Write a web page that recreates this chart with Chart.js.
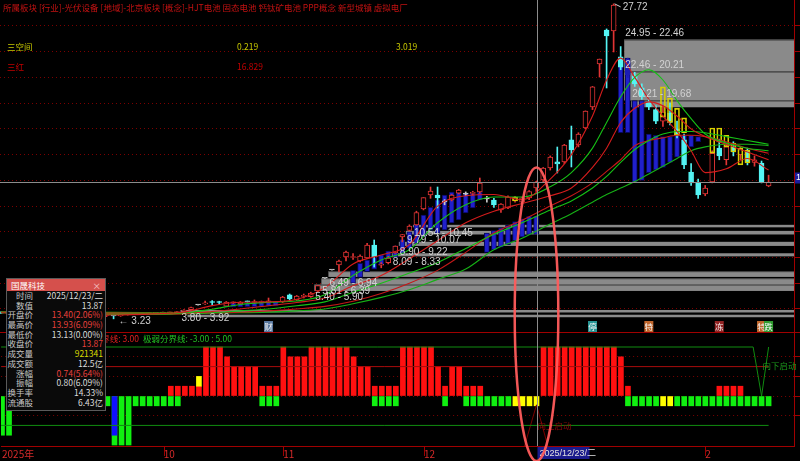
<!DOCTYPE html>
<html>
<head>
<meta charset="utf-8">
<script src="https://cdn.jsdelivr.net/npm/chart.js@4.4.1/dist/chart.umd.min.js"></script>
<style>
html, body { margin: 0; padding: 0; background: #000; width: 800px; height: 461px; overflow: hidden;
  font-family: "Noto Sans CJK SC", "Noto Sans", sans-serif; }
#wrap { position: relative; width: 800px; height: 461px; }
canvas { position: absolute; left: 0; top: 0; }
#price { z-index: 1; }
#ind { z-index: 2; }
.txt { position: absolute; z-index: 3; font-size: 8.5px; line-height: 12px; white-space: nowrap; }
#tip { position: absolute; z-index: 5; left: 6px; top: 278px; width: 98px; height: 131px;
  background: #0a0a0a; border: 1px solid #5a5a5a; font-size: 8.5px; color: #dcdcdc; }
#tiphd { height: 12px; line-height: 12px; background: #d5504c; color: #fff; padding-left: 4px; position: relative; }
#tiphd .x { position: absolute; right: 4px; top: 0; color: #f3c2c2; }
.r { position: relative; height: 9.7px; line-height: 9.7px; }
.r .l { position: absolute; right: 72px; color: #c8c8c8; }
.r .v { position: absolute; right: 2px; }
.red { color: #e8403c; }
.yel { color: #d8d800; }
</style>
</head>
<body>
<div id="wrap">
  <canvas id="price" width="800" height="333"></canvas>
  <canvas id="ind" width="800" height="461"></canvas>

  <div class="txt" style="left:3px;top:1px;color:#c41212">所属板块 [行业]-光伏设备 [地域]-北京板块 [概念]-HJT电池 固态电池 钙钛矿电池 PPP概念 新型城镇 虚拟电厂</div>
  <div class="txt" style="left:7px;top:40px;color:#c8c800">三空间</div>
  <div class="txt" style="left:237px;top:40px;color:#c8c800">0.219</div>
  <div class="txt" style="left:396px;top:40px;color:#c8c800">3.019</div>
  <div class="txt" style="left:7px;top:60px;color:#c40000">三红</div>
  <div class="txt" style="left:237px;top:60px;color:#c40000">16.829</div>

  <div id="tip">
    <div id="tiphd">国晟科技<span class="x">×</span></div>
    <div class="r"><span class="l">时间</span><span class="v">2025/12/23/二</span></div>
    <div class="r"><span class="l">数值</span><span class="v">13.87</span></div>
    <div class="r"><span class="l">开盘价</span><span class="v red">13.40(2.06%)</span></div>
    <div class="r"><span class="l">最高价</span><span class="v red">13.93(6.09%)</span></div>
    <div class="r"><span class="l">最低价</span><span class="v">13.13(0.00%)</span></div>
    <div class="r"><span class="l">收盘价</span><span class="v red">13.87</span></div>
    <div class="r"><span class="l">成交量</span><span class="v yel">921341</span></div>
    <div class="r"><span class="l">成交额</span><span class="v">12.5亿</span></div>
    <div class="r"><span class="l">涨幅</span><span class="v red">0.74(5.64%)</span></div>
    <div class="r"><span class="l">振幅</span><span class="v">0.80(6.09%)</span></div>
    <div class="r"><span class="l">换手率</span><span class="v">14.33%</span></div>
    <div class="r"><span class="l">流通股</span><span class="v">6.43亿</span></div>
  </div>
</div>

<script>
// daily candles (one per trading day)
const opens = [3.72,3.68,3.70,3.66,3.69,3.71,3.74,3.67,3.62,3.66,
  3.64,3.58,3.62,3.55,3.57,3.50,3.53,3.45,3.55,3.60,
  3.62,3.64,3.66,3.68,3.70,3.72,3.80,3.95,4.31,4.40,
  4.52,4.52,4.22,4.47,4.42,4.60,4.50,4.50,4.56,4.52,
  4.54,5.10,4.70,4.98,4.95,5.40,6.39,7.03,7.42,8.04,
  8.00,7.73,7.96,8.97,7.40,7.60,8.35,9.60,10.10,10.53,
  11.77,12.86,12.86,12.32,12.47,13.00,12.93,12.98,13.09,12.55,
  12.47,11.69,11.85,12.39,12.31,12.63,13.40,14.03,14.96,15.43,
  15.43,17.14,16.75,18.07,19.70,23.05,25.69,25.61,23.60,23.20,
  22.10,21.20,20.10,19.50,18.60,19.20,18.00,17.14,14.65,13.87,
  12.94,13.87,16.50,15.60,16.60,16.00,16.30,15.40,15.35,13.56];
const highs = [3.78,3.74,3.76,3.72,3.75,3.80,3.79,3.72,3.70,3.73,
  3.70,3.66,3.68,3.62,3.63,3.58,3.56,3.58,3.64,3.69,
  3.70,3.71,3.72,3.75,3.76,3.82,3.95,4.15,4.31,4.62,
  4.65,4.60,4.58,4.55,4.58,4.62,4.70,4.62,4.85,4.56,
  4.98,5.16,5.05,5.16,5.30,5.81,6.39,7.03,7.80,8.50,
  8.30,8.20,9.10,9.36,7.60,8.09,8.90,9.79,10.54,11.60,
  12.65,13.48,13.48,12.50,12.90,13.30,13.10,13.15,14.18,12.75,
  12.60,12.20,12.80,12.75,12.70,13.20,13.93,15.00,15.90,16.59,
  16.80,18.22,17.70,19.40,21.30,23.43,25.77,27.72,24.40,23.50,
  22.40,21.50,20.30,19.80,19.80,20.00,18.60,17.60,15.30,14.10,
  13.60,16.30,17.20,16.90,17.00,16.60,16.50,15.90,15.50,14.40];
const lows = [3.66,3.62,3.64,3.60,3.63,3.66,3.65,3.58,3.57,3.60,
  3.55,3.54,3.52,3.48,3.45,3.40,3.23,3.42,3.52,3.58,
  3.59,3.60,3.62,3.64,3.66,3.69,3.78,3.92,4.31,4.36,
  4.30,4.40,4.20,4.42,4.40,4.52,4.42,4.46,4.50,4.40,
  4.50,4.70,4.66,4.85,4.90,5.35,6.39,7.03,6.87,7.73,
  7.85,7.65,7.90,7.26,7.20,7.50,8.33,9.22,10.07,10.50,
  11.70,12.60,11.85,12.10,12.40,12.95,12.80,12.85,13.00,12.30,
  11.90,11.50,11.80,12.30,12.25,12.50,13.13,13.90,14.80,14.57,
  15.30,15.04,16.60,18.00,19.50,22.03,21.18,23.98,22.60,22.00,
  21.30,20.30,19.50,18.40,18.20,18.30,17.30,14.90,13.60,12.60,
  12.80,13.80,15.60,15.20,15.90,15.60,15.20,15.10,13.80,13.50];
const closes = [3.68,3.70,3.66,3.69,3.71,3.74,3.67,3.62,3.66,3.64,
  3.58,3.62,3.55,3.57,3.50,3.53,3.45,3.55,3.60,3.62,
  3.64,3.66,3.68,3.70,3.72,3.78,3.92,4.10,4.31,4.45,
  4.50,4.50,4.54,4.50,4.52,4.55,4.52,4.58,4.58,4.45,
  4.93,4.77,5.00,5.05,5.24,5.81,6.39,7.03,7.73,8.43,
  8.06,8.11,8.97,8.04,7.45,7.95,8.89,9.78,10.45,11.50,
  12.65,13.17,12.63,12.32,12.86,13.25,12.93,13.02,13.79,12.55,
  12.08,12.16,12.70,12.70,12.63,13.13,13.87,14.96,15.81,15.27,
  16.75,16.36,17.60,19.39,21.26,23.43,25.22,27.63,22.80,22.20,
  21.50,20.50,19.70,18.60,19.30,18.50,17.50,15.20,13.80,12.86,
  13.40,16.10,15.90,16.60,16.20,16.40,15.40,15.60,13.87,13.87];

// moving-average curves, sampled by eye at these bars
const maIdx = [0,8,16,22,26, 30,34,38,42,46, 50,54,58,62,66, 70,74,78,81,84, 86,88,90,92,94, 96,98,100,103,106, 109];
const ma5  = [3.70,3.66,3.53,3.62,3.76, 4.26,4.52,4.55,4.75,5.66, 7.50,8.20,9.00,12.00,12.80, 12.90,12.50,14.10,16.00,19.00, 21.80,23.50,22.00,20.30,19.00, 17.80,16.30,14.60,14.90,15.70, 14.80];
const ma10 = [3.70,3.68,3.58,3.58,3.68, 3.98,4.35,4.52,4.62,5.10, 6.60,7.80,8.60,10.70,12.10, 12.70,12.70,13.50,14.60,16.50, 18.50,20.50,22.00,22.60,21.80, 20.20,18.80,17.60,16.90,16.50, 16.30];
const ma20 = [3.72,3.70,3.62,3.60,3.64, 3.80,4.00,4.25,4.50,4.85, 5.80,6.60,7.90,9.30,10.70, 11.60,12.20,12.80,13.40,15.00, 16.50,18.50,19.60,20.10,19.80, 19.00,18.00,17.40,16.80,16.20, 15.60];
const ma30 = [3.74,3.72,3.66,3.63,3.63, 3.70,3.85,4.00,4.25,4.55, 5.30,6.00,6.80,7.60,8.70, 9.80,10.70,11.70,12.40,13.40, 14.30,15.40,16.40,17.10,17.60, 17.80,17.80,17.70,17.40,17.10, 16.80];
const ma45 = [3.76,3.74,3.70,3.67,3.66, 3.68,3.74,3.85,4.00,4.20, 4.60,5.20,6.00,7.00,8.40, 9.90,10.90,12.00,12.80,13.80, 14.70,15.60,16.70,17.10,17.30, 17.50,17.50,17.40,17.00,16.50, 16.10];
const ma60 = [3.78,3.76,3.73,3.70,3.68, 3.68,3.70,3.75,3.85,4.00, 4.40,4.90,5.50,6.30,7.10, 8.60,9.50,10.60,11.40,12.30, 12.90,13.40,13.90,14.50,15.10, 15.70,16.30,16.60,16.80,16.80, 16.70];

// blue band bars between the averages
const bandIdx = [32,33,34,35,36,37,38,39, 50,51,52,53,54,55,56,57,58,59,60,61,62,63,64,65,66,67,68,
  69,70,71,72,73,74,75,76, 88,89,90,91,92,93,94,95,96,97,98,99];
const bandHi = [4.45,4.45,4.47,4.47,4.48,4.50,4.52,4.52, 7.00,7.55,7.80,8.00,8.20,8.50,8.90,9.40,10.00,10.60,11.30,11.90,12.47,12.86,13.09,13.09,13.00,13.00,13.09,
  9.90,10.10,10.30,10.50,10.80,11.00,11.20,11.20, 23.50,23.50,20.20,20.20,17.60,17.50,17.40,17.40,17.50,17.50,17.50,17.40];
const bandLo = [4.15,4.15,4.15,4.17,4.18,4.20,4.22,4.25, 6.00,6.45,6.90,7.10,7.40,7.70,8.00,8.30,8.70,9.10,9.60,10.10,9.90,10.14,10.68,10.92,11.46,11.85,12.47,
  8.40,8.60,8.80,9.00,9.30,9.60,9.80,9.80, 17.70,17.70,13.87,14.00,14.60,14.80,15.00,15.40,15.80,16.20,16.60,17.00];

// yellow warning boxes
const warnBoxIdx = [19,20,21,22,23,24,25, 73, 94,95,96,97, 101,102,103,104,105,106];
const warnBoxHi = [3.68,3.68,3.70,3.70,3.72,3.72,3.74, 12.70, 21.26,20.40,19.60,18.85, 18.07,18.07,17.50,16.90,16.50,16.36];
const warnBoxLo = [3.60,3.61,3.62,3.63,3.64,3.64,3.66, 12.39, 18.92,18.50,17.50,17.70, 16.12,16.98,16.60,16.20,15.20,15.35];

// gap zones (start bar, upper and lower price)
const gapStart = [89, 89, 90, 59, 58, 57, 56, 47, 46, 45, 26, 27];
const gapHi = [24.95, 22.46, 20.21, 10.54, 10.07, 9.22, 8.33, 6.94, 6.39, 5.90, 3.92, 3.55];
const gapLo = [22.46, 20.21, 19.68, 10.45, 9.79, 8.90, 8.09, 6.49, 5.81, 5.40, 3.80, 3.45];
const gapText = ['24.95 - 22.46', '22.46 - 20.21', '20.21 - 19.68', '10.54 - 10.45', '9.79 - 10.07',
  '8.90 - 9.22', '8.09 - 8.33', '6.49 - 6.94', '5.81 - 6.39', '5.40 - 5.90', '3.80 - 3.92', ''];

// event markers
const markIdx = [38, 84, 92, 102, 108, 109];
const markText = ['财', '停', '特', '冻', '特', '跌'];

// cursor
const cursorIdx = 76;
const cursorDate = '2025/12/23/二';
const ringTop = 15.0;
const ringSpan = 3.1;

// strength indicator
const upBars = [0,0,0,0,0,0,0,0,0,0,
  0,0,0,0,0,0,0,0,0,0,
  0,0,0,0,1,1,1,1,1,5,
  5,5,4,3,3,3,3,1,1,1,
  5,4,4,4,5,5,5,5,5,5,
  4,3,3,1,1,1,1,5,5,5,
  5,5,3,1,3,3,1,1,1,0,
  0,0,0,0,0,0,0,5,5,5,
  5,5,5,5,5,5,5,5,4,1,
  0,0,0,0,0,0,0,0,0,0,
  0,0,1,1,1,1,0,0,0,0];
const downBars = [-4,-4,-1,-1,-1,-1,-1,-1,-1,-1,
  -1,-1,-1,-1,-1,-1,-5,-5,-5,-1,
  -1,-1,-1,-1,-1,-1,0,0,0,0,
  0,0,0,0,0,0,0,-1,-1,-1,
  0,0,0,0,0,0,0,0,0,0,
  0,0,0,-1,-1,-1,-1,0,0,0,
  0,0,0,-1,0,0,-1,-1,-1,-1,
  -1,-1,-1,0,0,0,0,0,0,0,
  0,0,0,0,0,0,0,0,0,-1,
  -1,-1,-1,-1,0,0,-1,-1,-1,-1,
  -1,-1,-1,-1,-1,-1,-1,-1,-1,-1];
const warnIdx = [28, 73, 74, 75, 76, 94, 95];
const warnFrom = [1, 0, 0, 0, 0, 0, 0];
const warnTo = [2, -1, -1, -1, -1, -1, -1];
const deepIdx = [16];
const deepTo = [-4];
const strongLine = 5, midLine = 3, weakLine = -3;
const downStartIdx = 108, upStartIdx = 76;

// date axis
const monthIdx = [0, 23, 40, 60, 100];
const monthText = ['2025年', '10', '11', '12', '2'];

const xMin = -0.128, xMax = 112.61;
const bars = closes.map((_, i) => i);
const CJK = '"Noto Sans CJK SC", "Noto Sans", sans-serif';
const NUM = '"Liberation Sans", "Noto Sans CJK SC", sans-serif';

function inBand(i) {
  const k = bandIdx.indexOf(i);
  if (k < 0) return false;
  return Math.max(opens[i], closes[i]) <= bandHi[k] + 0.01 && Math.min(opens[i], closes[i]) >= bandLo[k] - 0.01;
}
function candleColor(i) {
  if (closes[i] === opens[i]) return '#c8c8c8';
  if (closes[i] > opens[i]) return '#e03434';
  return inBand(i) ? '#1c1cb4' : '#54f4f4';
}
function maLine(vals, color) {
  return { type: 'line', data: maIdx.map((v, k) => ({ x: v, y: vals[k] })), borderColor: color,
    borderWidth: 1.1, pointRadius: 0, cubicInterpolationMode: 'monotone', order: 10 };
}

const gapPlugin = {
  id: 'gaps',
  beforeDatasetsDraw(chart) {
    const { ctx, chartArea: a, scales: { x, y } } = chart;
    ctx.save();
    gapStart.forEach((s, k) => {
      const left = x.getPixelForValue(s) - 3.5;
      const top = y.getPixelForValue(gapHi[k]);
      const h = Math.max(y.getPixelForValue(gapLo[k]) - top, 2.5);
      ctx.fillStyle = '#8a8a8a';
      ctx.fillRect(left, top, a.right - left, h);
      if (h > 5) {
        ctx.fillStyle = '#3a3a3a';
        ctx.fillRect(left, top, a.right - left, 1);
      }
    });
    ctx.restore();
  },
  afterDatasetsDraw(chart) {
    const { ctx, scales: { x, y } } = chart;
    ctx.save();
    ctx.font = '10px ' + NUM;
    ctx.fillStyle = '#d2d2d2';
    gapStart.forEach((s, k) => {
      const left = x.getPixelForValue(s) - 3.5;
      if (gapHi[k] > 15) {
        ctx.textBaseline = 'bottom';
        ctx.fillText(gapText[k], left + 1, y.getPixelForValue(gapHi[k]) - 1);
      } else {
        ctx.textBaseline = 'top';
        const bottom = Math.max(y.getPixelForValue(gapLo[k]), y.getPixelForValue(gapHi[k]) + 2.5);
        ctx.fillText(gapText[k], left + 1, bottom + 1);
      }
    });
    ctx.restore();
  }
};

const markStyle = { '财': '#56769e', '停': '#269494', '特': '#c0662c', '冻': '#922424', '跌': '#2e9a2e' };

const priceOverlay = {
  id: 'priceOverlay',
  afterDraw(chart) {
    const { ctx, chartArea: a, scales: { x, y } } = chart;
    ctx.save();
    // horizontal cursor line
    const cy = Math.round(y.getPixelForValue(closes[cursorIdx])) + 0.5;
    ctx.strokeStyle = '#8c8c8c';
    ctx.lineWidth = 1;
    ctx.beginPath(); ctx.moveTo(a.left, cy); ctx.lineTo(a.right, cy); ctx.stroke();

    // highest / lowest notes
    const hiVal = Math.max(...highs), loVal = Math.min(...lows);
    const hi = highs.indexOf(hiVal), lo = lows.indexOf(loVal);
    const hx = x.getPixelForValue(hi), hy = y.getPixelForValue(hiVal);
    ctx.strokeStyle = '#d0d0d0';
    ctx.beginPath(); ctx.moveTo(hx + 1, hy); ctx.lineTo(hx + 7, hy + 3); ctx.stroke();
    ctx.font = '10px ' + NUM;
    ctx.fillStyle = '#d0d0d0';
    ctx.textBaseline = 'middle';
    ctx.fillText(hiVal.toFixed(2), hx + 9, hy + 3);
    ctx.fillText('← ' + loVal.toFixed(2), x.getPixelForValue(lo) + 5, y.getPixelForValue(loVal) + 2);

    // event markers along the bottom
    ctx.font = '8.5px ' + CJK;
    ctx.textAlign = 'center';
    markIdx.forEach((m, k) => {
      const mx = x.getPixelForValue(m);
      ctx.fillStyle = markStyle[markText[k]];
      ctx.fillRect(mx - 4.5, a.bottom - 12, 9, 11);
      ctx.fillStyle = '#f4f4f4';
      ctx.fillText(markText[k], mx, a.bottom - 6.5);
    });

    // last price tag on the axis (mostly off-screen)
    ctx.fillStyle = '#1c1c9c';
    ctx.fillRect(a.right + 1, cy - 10, 34, 11);
    ctx.fillStyle = '#ffffff';
    ctx.textAlign = 'left';
    ctx.font = '9px ' + NUM;
    ctx.fillText(closes[cursorIdx].toFixed(2), a.right + 2, cy - 4.5);
    ctx.restore();
  }
};

const priceChart = new Chart(document.getElementById('price'), {
  type: 'bar',
  data: {
    datasets: [
      maLine(ma5, '#d41c1c'),
      maLine(ma10, '#16c016'),
      maLine(ma20, '#d41c1c'),
      maLine(ma30, '#16c016'),
      maLine(ma45, '#c41818'),
      maLine(ma60, '#16b016'),
      {
        data: warnBoxIdx.map((v, k) => ({ x: v, y: [warnBoxLo[k], warnBoxHi[k]] })),
        backgroundColor: 'rgba(0,0,0,0)', borderColor: '#d8d000', borderWidth: 1, borderSkipped: false,
        barThickness: 5, grouped: false, order: 20
      },
      {
        data: bars.map(i => ({ x: i, y: [Math.min(opens[i], closes[i]), Math.max(opens[i], closes[i])] })),
        backgroundColor: c => closes[c.dataIndex] > opens[c.dataIndex] ? '#000000' : candleColor(c.dataIndex),
        borderColor: c => candleColor(c.dataIndex),
        borderWidth: 1, borderSkipped: false, barThickness: 5, minBarLength: 1, grouped: false, order: 30
      },
      {
        data: bars.map(i => ({ x: i, y: [Math.max(opens[i], closes[i]), highs[i]] })),
        backgroundColor: c => candleColor(c.dataIndex), borderWidth: 0, barThickness: 1, grouped: false, order: 40
      },
      {
        data: bars.map(i => ({ x: i, y: [lows[i], Math.min(opens[i], closes[i])] })),
        backgroundColor: c => candleColor(c.dataIndex), borderWidth: 0, barThickness: 1, grouped: false, order: 40
      },
      {
        data: bandIdx.map((v, k) => ({ x: v, y: [bandLo[k], bandHi[k]] })),
        backgroundColor: '#2020cc', borderColor: '#08085e', borderWidth: 1, borderSkipped: false,
        barThickness: 5, grouped: false, order: 50
      }
    ]
  },
  options: {
    responsive: false, animation: false, devicePixelRatio: 1,
    layout: { padding: 0 },
    plugins: { legend: { display: false }, tooltip: { enabled: false } },
    scales: {
      x: { type: 'linear', min: xMin, max: xMax, display: false, offset: false },
      y: {
        position: 'right', min: 2.13, max: 28.02,
        ticks: { display: false, stepSize: 2 },
        afterBuildTicks: s => { s.ticks = s.ticks.filter(t => Math.abs(t.value - Math.round(t.value)) < 1e-6 && t.value >= 4 && t.value <= 26); },
        afterFit: s => { s.width = 6; },
        grid: { color: '#7c0000', tickColor: '#a00000', tickLength: 6 },
        border: { display: true, color: '#a00000', dash: [1, 3] }
      }
    }
  },
  plugins: [gapPlugin, priceOverlay]
});

const indOverlay = {
  id: 'indOverlay',
  afterDraw(chart) {
    const { ctx, chartArea: a, scales: { x, y } } = chart;
    ctx.save();
    // panel top border
    ctx.fillStyle = '#a00000';
    ctx.fillRect(0, a.top - 1, chart.width, 1);

    // month tick marks
    ctx.strokeStyle = '#a00000';
    ctx.lineWidth = 1;
    monthIdx.forEach(m => {
      if (m === 0) return;
      const mx = Math.round(x.getPixelForValue(m)) + 0.5;
      ctx.beginPath(); ctx.moveTo(mx, a.bottom); ctx.lineTo(mx, a.bottom + 10); ctx.stroke();
    });

    // legend
    ctx.font = '8.5px ' + CJK;
    ctx.textBaseline = 'middle';
    ctx.textAlign = 'right';
    ctx.fillStyle = '#e42020';
    ctx.fillText('强弱分界线: ' + midLine.toFixed(2), 139, a.top + 6);
    ctx.textAlign = 'left';
    ctx.fillStyle = '#22c222';
    ctx.fillText('极弱分界线: ' + weakLine.toFixed(2) + ' : ' + strongLine.toFixed(2), 143, a.top + 6);

    // signal notes
    ctx.fillStyle = '#1c9a1c';
    ctx.fillText('向下启动', x.getPixelForValue(downStartIdx) + 1, y.getPixelForValue(midLine) - 1);
    ctx.fillStyle = '#8a0a0a';
    ctx.fillText('向上启动', x.getPixelForValue(upStartIdx) + 1, y.getPixelForValue(weakLine));

    // vertical cursor through both panels
    const cx = Math.round(x.getPixelForValue(cursorIdx)) + 0.5;
    ctx.strokeStyle = '#8c8c8c';
    ctx.beginPath(); ctx.moveTo(cx, 0); ctx.lineTo(cx, a.bottom); ctx.stroke();

    // date tag
    ctx.fillStyle = '#1a1a8c';
    ctx.fillRect(cx, a.bottom + 1, 52, 12);
    ctx.fillStyle = '#e0e0e0';
    ctx.font = '9px ' + NUM;
    ctx.fillText(cursorDate, cx + 2, a.bottom + 7.5);

    // hand drawn ring
    const top = priceChart.scales.y.getPixelForValue(ringTop);
    const bottom = chart.height;
    const rx = x.getPixelForValue(cursorIdx + ringSpan) - x.getPixelForValue(cursorIdx);
    ctx.strokeStyle = 'rgba(255,92,92,0.95)';
    ctx.lineWidth = 2.5;
    ctx.beginPath();
    ctx.ellipse(x.getPixelForValue(cursorIdx), (top + bottom) / 2, rx, (bottom - top) / 2, 0, 0, Math.PI * 2);
    ctx.stroke();
    ctx.restore();
  }
};

const lastBar = closes.length - 1;
new Chart(document.getElementById('ind'), {
  type: 'bar',
  data: {
    datasets: [
      { type: 'line', data: [{ x: xMin, y: strongLine }, { x: downStartIdx - 1.2, y: strongLine }, { x: downStartIdx, y: 0 }, { x: downStartIdx + 1, y: strongLine }],
        borderColor: '#108c10', borderWidth: 1, pointRadius: 0, order: 5 },
      { type: 'line', data: [{ x: xMin, y: midLine }, { x: lastBar, y: midLine }],
        borderColor: '#a80c0c', borderWidth: 1, pointRadius: 0, order: 5 },
      { type: 'line', data: [{ x: xMin, y: weakLine }, { x: lastBar, y: weakLine }],
        borderColor: '#108c10', borderWidth: 1, pointRadius: 0, order: 5 },
      { type: 'line', data: [{ x: upStartIdx - 1.7, y: -5.1 }, { x: upStartIdx, y: -0.9 }, { x: upStartIdx + 1.6, y: -5.1 }],
        borderColor: '#7a0000', borderWidth: 1, pointRadius: 0, order: 5 },
      { data: deepIdx.map((v, k) => ({ x: v, y: [0, deepTo[k]] })), backgroundColor: '#1010ff',
        barThickness: 5, grouped: false, order: 10 },
      { data: warnIdx.map((v, k) => ({ x: v, y: [warnFrom[k], warnTo[k]] })), backgroundColor: '#ffff00',
        barThickness: 5, grouped: false, order: 10 },
      { data: bars.filter(i => upBars[i] > 0).map(i => ({ x: i, y: upBars[i] })), backgroundColor: '#ff1010',
        barThickness: 5, grouped: false, order: 20 },
      { data: bars.filter(i => downBars[i] < 0).map(i => ({ x: i, y: downBars[i] })), backgroundColor: '#10f010',
        barThickness: 5, grouped: false, order: 20 }
    ]
  },
  options: {
    responsive: false, animation: false, devicePixelRatio: 1,
    layout: { padding: { top: 333, left: 0, right: 0, bottom: 0 } },
    plugins: { legend: { display: false }, tooltip: { enabled: false } },
    scales: {
      x: {
        type: 'linear', min: xMin, max: xMax, offset: false, position: 'bottom',
        afterBuildTicks: s => { s.ticks = monthIdx.map(v => ({ value: v })); },
        afterFit: s => { s.height = 15; },
        ticks: { color: '#d42a2a', font: { size: 10, family: CJK }, align: 'start', padding: 2,
          autoSkip: false, maxRotation: 0, callback: v => monthText[monthIdx.indexOf(v)] },
        grid: { display: true, drawOnChartArea: false, drawTicks: false },
        border: { display: true, color: '#a00000' }
      },
      y: {
        position: 'right', min: -5.1, max: 6.43,
        ticks: { display: false, stepSize: 2 },
        afterBuildTicks: s => { s.ticks = s.ticks.filter(t => Math.abs(t.value - Math.round(t.value)) < 1e-6 && Math.abs(t.value) <= 4); },
        afterFit: s => { s.width = 6; },
        grid: { color: '#7c0000', tickColor: '#a00000', tickLength: 6 },
        border: { display: true, color: '#a00000', dash: [1, 3] }
      }
    }
  },
  plugins: [indOverlay]
});
</script>
</body>
</html>
